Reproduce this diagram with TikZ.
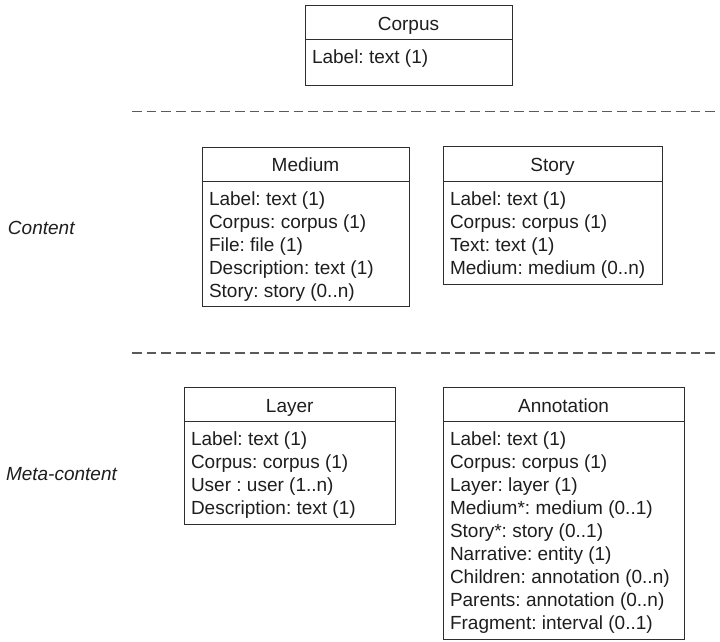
\documentclass[tikz,border=0pt]{standalone}
\usepackage{fontspec}
\setmainfont{Liberation Sans}
\frenchspacing

\definecolor{textgray}{HTML}{1E1E1E}
\definecolor{linegray}{HTML}{2E2E2E}
\definecolor{dashgray}{HTML}{5A5A5A}

% A class box: name, left, top, right, bottom, header rule, title, attributes
\newcommand{\umlclass}[8]{%
  \node[classbox, minimum width={(#4-#2)*1pt}, minimum height={(#5-#3)*1pt}] (#1) at (#2,#3) {};
  \coordinate (#1-rule-w) at (#2,#6);
  \coordinate (#1-rule-e) at (#4,#6);
  \draw[headrule] (#1-rule-w) -- (#1-rule-e);
  \node[anchor=base] (#1-title) at ({(#2+#4)/2},{#3+24.5}) {#7};
  \foreach \attr [count=\k] in {#8}
    \node[anchor=base west] (#1-attr-\k) at ({#2+7},{#6+24+(\k-1)*23}) {\attr};
}

\begin{document}
\begin{tikzpicture}[x=1pt, y=-1pt,
  every node/.style={inner sep=0pt, outer sep=0pt,
    font=\fontsize{19}{23}\selectfont, text=textgray},
  classbox/.style={draw=linegray, line width=1pt, anchor=north west},
  headrule/.style={draw=linegray, line width=1pt},
  sepline/.style={draw=dashgray, line width=1.6pt, dash pattern=on 9.7pt off 5pt},
  sidelabel/.style={anchor=base west, font=\fontsize{19}{23}\selectfont\itshape}]

\useasboundingbox (0,0) rectangle (720,641);

% corpus
\umlclass{corpus}{305}{5.5}{512}{85.5}{39}{Corpus}{Label: text (1)}

% section separators
\coordinate (sep1-w) at (132,111.5);
\coordinate (sep1-e) at (722,111.5);
\draw[sepline] (sep1-w) -- (sep1-e);
\coordinate (sep2-w) at (132,353);
\coordinate (sep2-e) at (722,353);
\draw[sepline] (sep2-w) -- (sep2-e);

% content
\node[sidelabel] (content-label) at (8,234) {Content};
\umlclass{medium}{202}{147}{409}{306}{181}{Medium}%
  {Label: text (1), Corpus: corpus (1), File: file (1), Description: text (1), Story: story (0..n)}
\umlclass{story}{443}{146.5}{662}{284}{181.5}{Story}%
  {Label: text (1), Corpus: corpus (1), Text: text (1), Medium: medium (0..n)}

% meta-content
\node[sidelabel] (meta-label) at (6,480) {Meta-content};
\umlclass{layer}{184}{387.5}{395.5}{524}{421.5}{Layer}%
  {Label: text (1), Corpus: corpus (1), User : user (1..n), Description: text (1)}
\umlclass{annotation}{443}{387.5}{684}{639.5}{421.5}{Annotation}%
  {Label: text (1), Corpus: corpus (1), Layer: layer (1), Medium*: medium (0..1),
   Story*: story (0..1), Narrative: entity (1), Children: annotation (0..n),
   Parents: annotation (0..n), Fragment: interval (0..1)}

\end{tikzpicture}
\end{document}
